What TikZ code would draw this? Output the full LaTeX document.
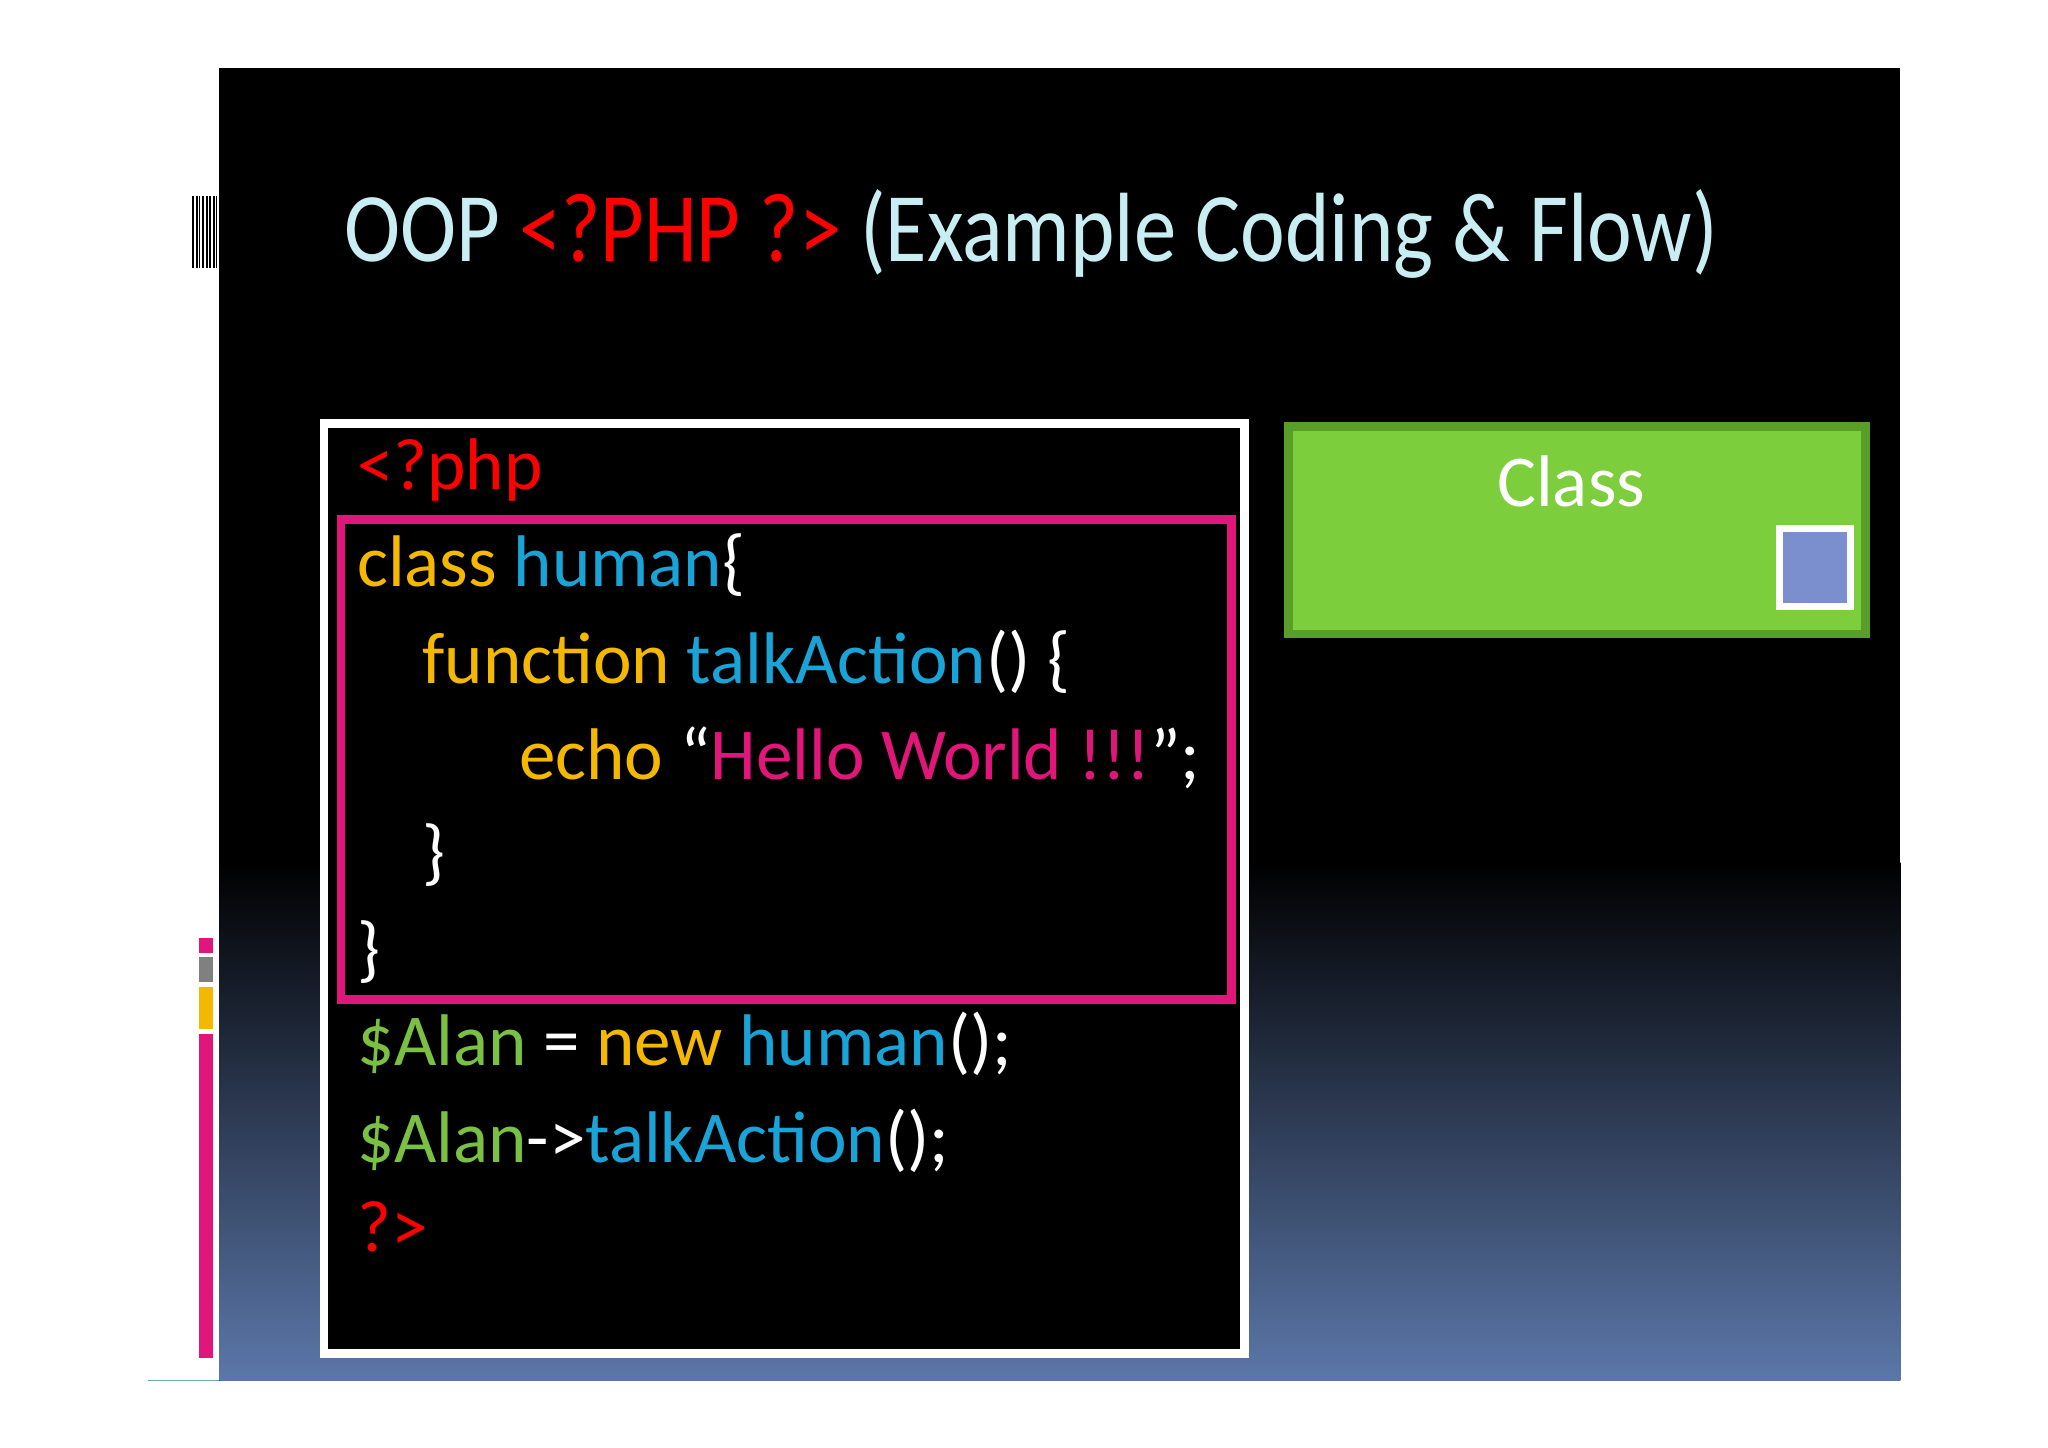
\documentclass[tikz,border=0pt]{standalone}
\usepackage{fontspec}
\setmainfont{Carlito}
\usetikzlibrary{positioning}
\definecolor{titlecyan}{HTML}{C8EEF4}
\definecolor{codeyellow}{HTML}{F5B800}
\definecolor{codecyan}{HTML}{1AA3D6}
\definecolor{codepink}{HTML}{E0167A}
\definecolor{codegreen}{HTML}{7AC143}
\definecolor{boxgreen}{HTML}{7DCE3C}
\definecolor{boxedge}{HTML}{5A9E2A}
\definecolor{slideblue}{HTML}{5B77A9}
\definecolor{squareblue}{HTML}{7B8FCF}
\tikzset{
  codeline/.style={anchor=base west,inner sep=0pt,font=\fontsize{20.8}{25}\selectfont,text=white},
  titletext/.style={anchor=base west,inner sep=0pt,font=\fontsize{28}{34}\selectfont},
}
\begin{document}
\begin{tikzpicture}[x=0.01306cm,y=-0.01306cm]
\useasboundingbox (0,0) rectangle (1568,1108);
\fill[white] (0,0) rectangle (1568,1108);
%% slide background
\fill[black] (168,52) rectangle (1455,1057);
\shade[top color=black,bottom color=slideblue] (168,660) rectangle (1455,1057);
\draw[teal!60,thin] (113,1057) -- (168,1057);
%% side decoration
\foreach \xx in {147,150,152,155,158,160,163,165}
  \fill[black] (\xx,150) rectangle ++(1.3,55);
\fill[codepink] (152,718) rectangle (163,730);
\fill[gray] (152,733) rectangle (163,752);
\fill[codeyellow] (152,756) rectangle (163,788);
\fill[codepink] (152,792) rectangle (163,1040);
%% title
\node[titletext] (title) at (263,200) {\scalebox{0.86}[1]{\textcolor{titlecyan}{OOP} \textcolor{red}{<?PHP ?>} \textcolor{titlecyan}{(Example Coding \& Flow)}}};
%% boxes
\draw[white,fill=black,line width=2.5pt] (248,324) rectangle (953,1036);
\draw[codepink,line width=2.5pt] (261,398) rectangle (943,765);
\node[draw=boxedge,fill=boxgreen,line width=2.5pt,minimum width=442*0.01306cm,minimum height=159*0.01306cm,anchor=north west] (class_box) at (983,323) {};
\node[codeline,anchor=base] (class_lbl) at (1203,388) {Class};
\node[draw=white,fill=squareblue,line width=2pt,minimum width=54*0.01306cm,minimum height=60*0.01306cm,anchor=north west] (class_sq) at (1360,402) {};
%% code
\node[codeline,text=red] (l1) at (273,375) {<?php};
\node[codeline] (l2) at (273,449) {\textcolor{codeyellow}{class} \textcolor{codecyan}{human}\{};
\node[codeline] (l3) at (323,523) {\textcolor{codeyellow}{function} \textcolor{codecyan}{talkAction}() \{};
\node[codeline] (l4) at (397,597) {\textcolor{codeyellow}{echo} “\textcolor{codepink}{Hello World !!!}”;};
\node[codeline] (l5) at (323,671) {\}};
\node[codeline] (l6) at (273,745) {\}};
\node[codeline] (l7) at (273,816) {\textcolor{codegreen}{\$Alan} = \textcolor{codeyellow}{new} \textcolor{codecyan}{human}();};
\node[codeline] (l8) at (273,890) {\textcolor{codegreen}{\$Alan}->\textcolor{codecyan}{talkAction}();};
\node[codeline,text=red] (l9) at (273,958) {?>};
\end{tikzpicture}
\end{document}
